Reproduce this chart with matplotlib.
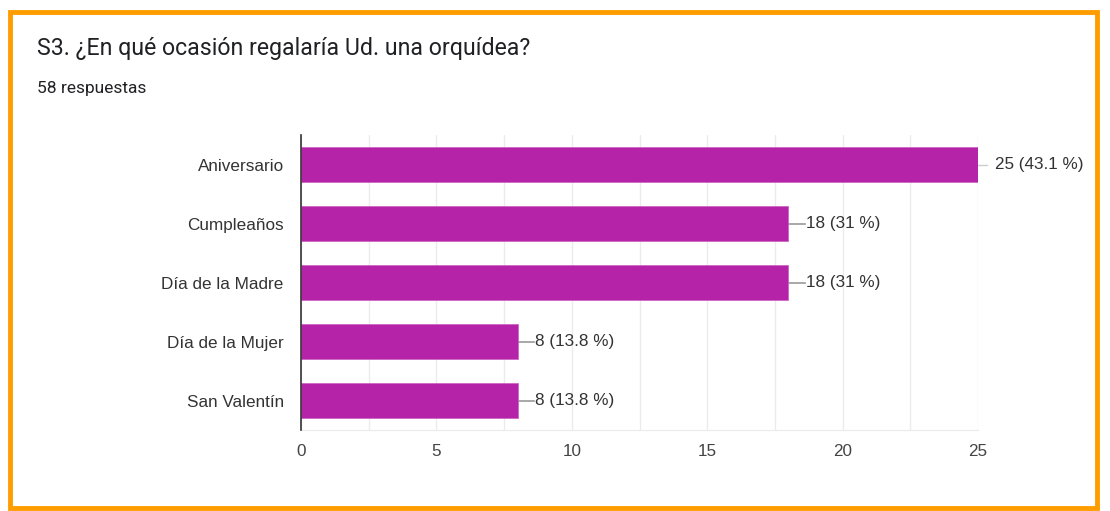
import matplotlib
matplotlib.use('Agg')
import matplotlib.pyplot as plt
from matplotlib.patches import Rectangle

categories = ["Aniversario", "Cumpleaños", "Día de la Madre", "Día de la Mujer", "San Valentín"]
counts = [25, 18, 18, 8, 8]
percents = ["43.1", "31", "31", "13.8", "13.8"]
xticks = [0, 5, 10, 15, 20, 25]
title = "S3. ¿En qué ocasión regalaría Ud. una orquídea?"
subtitle = "58 respuestas"

W, H = 1110, 511
fig = plt.figure(figsize=(W / 100, H / 100), dpi=100)

# orange card border
fig.patches.append(Rectangle((10 / W, 1 - 508 / H), 1087 / W, 496 / H,
                             transform=fig.transFigure, fill=False,
                             edgecolor='#FF9D00', linewidth=3.5))

fig.text(37 / W, 1 - 48 / H, title, fontsize=16.7, family='Roboto',
         color='#202124', va='center')
fig.text(37 / W, 1 - 89 / H, subtitle, fontsize=12.5, family='Roboto',
         color='#202124', va='center')

ax = fig.add_axes([301 / W, 1 - 430 / H, 677 / W, 295 / H])
y = list(range(len(categories)))
ax.barh(y, counts, height=0.61, color='#B523A8', edgecolor='#CC66C4',
        linewidth=0.6, zorder=3)

lab_font = dict(fontsize=12.3, family='Liberation Sans', color='#333333')
for yi, c, p in zip(y, counts, percents):
    label = f"{c} ({p} %)"
    if c == max(counts):
        ax.plot([c, c + 0.35], [yi, yi], color='#CCCCCC', lw=1, zorder=2,
                clip_on=False)
        ax.text(c + 0.63, yi, label, va='center', ha='left', **lab_font)
    else:
        ax.plot([c, c + 0.6], [yi, yi], color='#999999', lw=1.2, zorder=2,
                clip_on=False)
        ax.text(c + 0.65, yi, label, va='center', ha='left', **lab_font)

ax.set_xlim(0, 25)
ax.set_ylim(len(categories) - 0.5, -0.5)
ax.set_yticks(y)
ax.set_yticklabels(categories, **lab_font)
ax.set_xticks(xticks)
ax.set_xticklabels([str(t) for t in xticks], fontsize=12.3,
                   family='Liberation Sans', color='#444444')
ax.set_xticks([t + 2.5 for t in xticks[:-1]], minor=True)
ax.tick_params(axis='both', which='both', length=0)
ax.tick_params(axis='y', pad=12.5)
ax.tick_params(axis='x', pad=10)
ax.grid(axis='x', which='both', color='#EBEBEB', lw=1, zorder=0)
for s in ['top', 'right']:
    ax.spines[s].set_visible(False)
ax.spines['bottom'].set_color('#EBEBEB')
ax.spines['left'].set_color('#333333')
ax.spines['left'].set_linewidth(1.2)
ax.spines['left'].set_zorder(4)

fig.savefig('out.png', dpi=100)
